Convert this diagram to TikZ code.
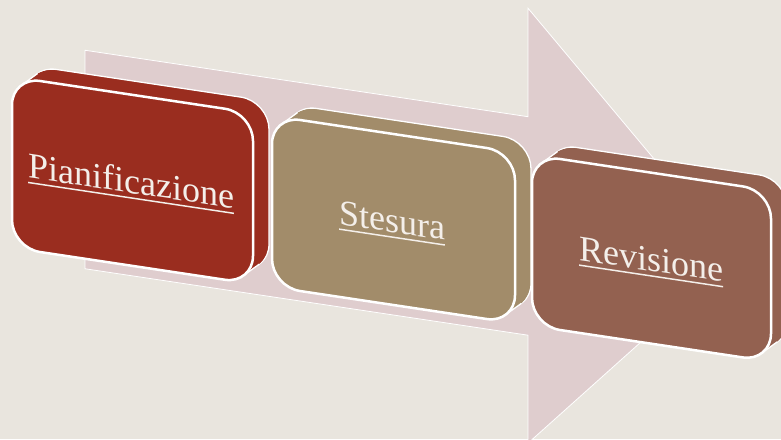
\documentclass[tikz,border=0pt]{standalone}
\usepackage{fontspec}
\setmainfont{Liberation Serif}
\definecolor{bgc}{HTML}{E9E5DE}
\definecolor{arrowc}{HTML}{DFCDCE}
\definecolor{cone}{HTML}{9A2D1F}
\definecolor{ctwo}{HTML}{A28C6A}
\definecolor{cthree}{HTML}{936150}
\definecolor{txtc}{HTML}{F4EFEA}
\newcommand\rr{28}
\newcommand\rk{12.54}
\newcommand\rrpath[4]{(#1,#2+\rr) -- (#1,#4-\rr) .. controls (#1,#4-\rk) and (#1+\rk,#4) .. (#1+\rr,#4) -- (#3-\rr,#4) .. controls (#3-\rk,#4) and (#3,#4-\rk) .. (#3,#4-\rr) -- (#3,#2+\rr) .. controls (#3,#2+\rk) and (#3-\rk,#2) .. (#3-\rr,#2) -- (#1+\rr,#2) .. controls (#1+\rk,#2) and (#1,#2+\rk) .. (#1,#2+\rr) -- cycle}
\newcommand\ulx[1]{\setbox0\hbox{#1}\rlap{\rule[-5.5pt]{\wd0}{1.5pt}}\box0}
\newcommand\drawbox[6]{%
  \draw[backline, fill=#3] \rrpath{#1+16}{75-14}{#2+16}{246-14};
  \foreach \q in {0.1,0.2,...,0.9} {\fill[#3] \rrpath{#1+16*\q}{75-14*\q}{#2+16*\q}{246-14*\q};}
  \draw[backline] (#1+9.56,75+6.93) -- (#1+25.56,75-7.07);
  \draw[backline] (#2-9.56,246-6.93) -- (#2+6.44,246-20.93);
  \draw[frontline, fill=#3] \rrpath{#1}{75}{#2}{246};
  \node[label text] (#4) at (#6,173.5) {\ulx{#5}};
}
\tikzset{
  backline/.style={draw=white, line width=1.3pt},
  frontline/.style={draw=white, line width=2.5pt},
  arrowstyle/.style={fill=arrowc, draw=white, line width=0.8pt, line join=miter},
  label text/.style={transform shape, anchor=base, text=txtc, inner sep=0pt,
    font=\fontsize{36}{40}\selectfont}
}
\begin{document}
\begin{tikzpicture}[x=1pt,y=-1pt]
\useasboundingbox (0,0) rectangle (781,439);
\clip (0,0) rectangle (781,439);
\fill[bgc] (0,0) rectangle (781,439);
\begin{scope}[yslant=-0.15]
  \draw[arrowstyle] (85,37.5) -- (528,37.5) -- (528,-71) -- (736,146.5) -- (528,364) -- (528,256) -- (85,256) -- cycle;
  \drawbox{12}{253}{cone}{plan}{Pianificazione}{131}
  \drawbox{272}{515}{ctwo}{stes}{Stesura}{392}
  \drawbox{532}{771}{cthree}{rev}{Revisione}{651}
\end{scope}
\end{tikzpicture}
\end{document}
